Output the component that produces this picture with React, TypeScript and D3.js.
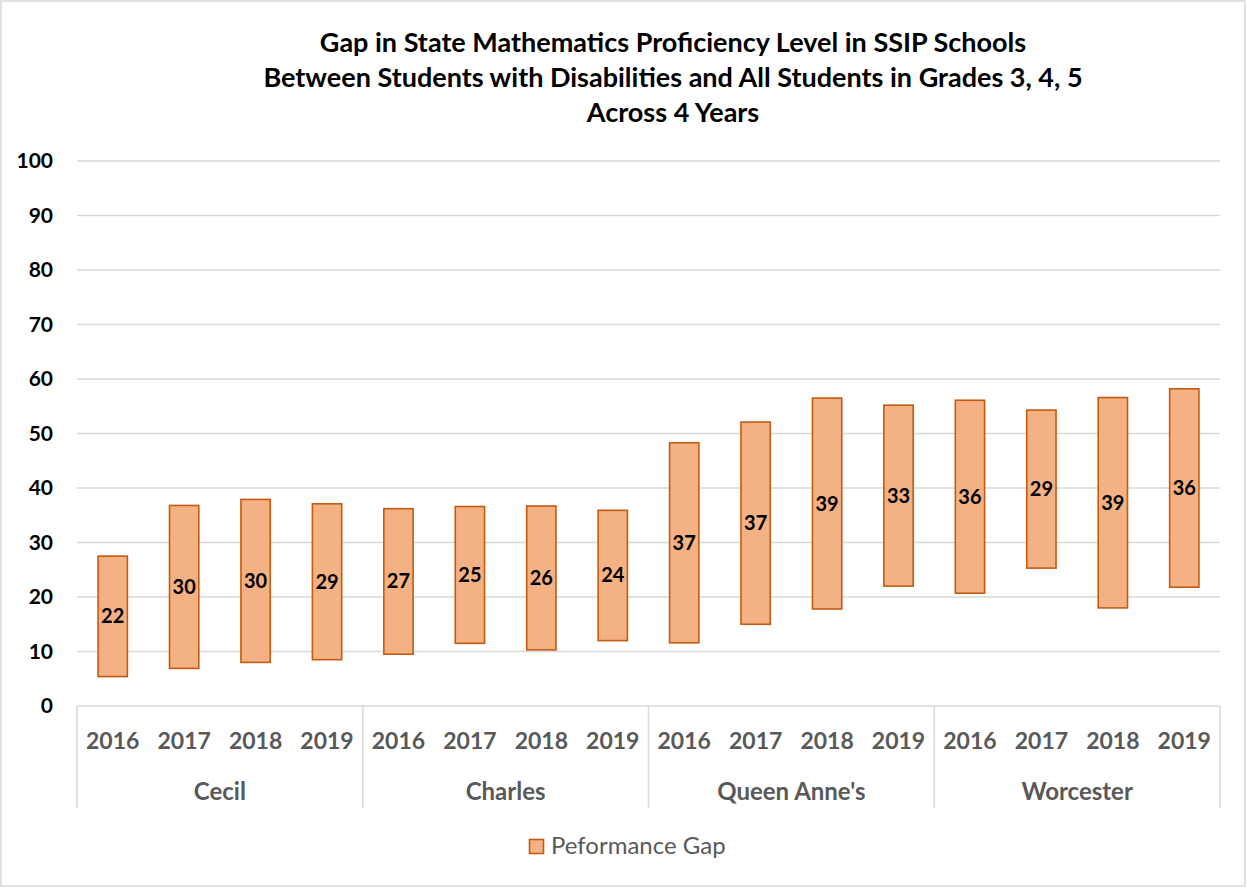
import React from 'react';
import * as d3 from 'd3';

// chart data
const counties = ["Cecil", "Charles", "Queen Anne's", "Worcester"];
const years = ["2016", "2017", "2018", "2019"];
// lower end of the floating bar (students with disabilities)
const lowValues = [5.4, 6.9, 8.0, 8.5, 9.5, 11.5, 10.3, 12.0, 11.6, 15.0, 17.8, 22.0, 20.7, 25.3, 18.0, 21.8];
// upper end of the floating bar (all students)
const highValues = [27.5, 36.8, 37.9, 37.1, 36.2, 36.6, 36.7, 35.9, 48.3, 52.1, 56.5, 55.2, 56.1, 54.3, 56.6, 58.2];
// gap labels as printed on the bars
const gapLabels = ["22", "30", "30", "29", "27", "25", "26", "24", "37", "37", "39", "33", "36", "29", "39", "36"];
const yTicks = [0, 10, 20, 30, 40, 50, 60, 70, 80, 90, 100];
const titleLines = [
  "Gap in State Mathematics Proficiency Level in SSIP Schools",
  "Between Students with Disabilities and All Students in Grades 3, 4, 5",
  "Across 4 Years",
];
const legendLabel = "Peformance Gap";

const W = 1247;
const H = 888;
const FONT = "Lato, 'Open Sans', sans-serif";
const FILL = "#F4B183";
const STROKE = "#C55A11";
const GREY = "#595959";
const GRID = "#d9d9d9";

const App = () => {
  const plot = { left: 77, right: 1220, top: 161, bottom: 706 };

  const keys = counties.flatMap(c => years.map(y => `${c}|${y}`));

  const x = d3.scaleBand<string>()
    .domain(keys)
    .range([plot.left, plot.right])
    .paddingInner(0.59)
    .paddingOuter(0.295);

  const xGroup = d3.scaleBand<string>()
    .domain(counties)
    .range([plot.left, plot.right]);

  const y = d3.scaleLinear()
    .domain([0, 100])
    .range([plot.bottom, plot.top]);

  const bars = keys.map((k, i) => ({
    key: k,
    year: k.split("|")[1],
    low: lowValues[i],
    high: highValues[i],
    label: gapLabels[i],
  }));

  return (
    <div style={{ position: 'absolute', left: 0, top: 0 }}>
      <svg width={W} height={H} style={{ display: 'block' }}>
        <rect x={0} y={0} width={W} height={H} fill="#fff" />
        <rect x={1} y={1} width={W - 3} height={H - 3} fill="none" stroke={GRID} strokeWidth={1.5} />

        {/* title */}
        <g fontFamily={FONT} fontWeight="bold" fontSize={27} fill="#000" textAnchor="middle">
          {titleLines.map((t, i) => (
            <text key={i} x={673} y={43 + i * 35} dy="0.35em">{t}</text>
          ))}
        </g>

        {/* gridlines + y labels */}
        {yTicks.map(t => (
          <g key={t}>
            {t > 0 && (
              <line x1={plot.left} x2={plot.right} y1={y(t)} y2={y(t)} stroke={GRID} strokeWidth={1.5} />
            )}
            <text x={53} y={y(t)} dy="0.35em" textAnchor="end" fontFamily={FONT}
              fontWeight="bold" fontSize={21} fill="#000">{t}</text>
          </g>
        ))}

        {/* x axis line and group dividers */}
        <line x1={plot.left} x2={plot.right} y1={plot.bottom} y2={plot.bottom} stroke={GRID} strokeWidth={1.5} />
        {[...counties.map(c => xGroup(c) as number), plot.right].map((gx, i) => (
          <line key={i} x1={gx} x2={gx} y1={plot.bottom} y2={808} stroke={GRID} strokeWidth={1.5} />
        ))}

        {/* floating bars */}
        {bars.map(b => (
          <g key={b.key}>
            <rect
              x={x(b.key)}
              y={y(b.high)}
              width={x.bandwidth()}
              height={y(b.low) - y(b.high)}
              fill={FILL}
              stroke={STROKE}
              strokeWidth={1.6}
            />
            <text
              x={(x(b.key) as number) + x.bandwidth() / 2}
              y={y((b.low + b.high) / 2)}
              dy="0.35em"
              textAnchor="middle"
              fontFamily={FONT}
              fontWeight="bold"
              fontSize={20}
              fill="#000"
            >{b.label}</text>
          </g>
        ))}

        {/* year labels */}
        {bars.map(b => (
          <text key={`yr-${b.key}`}
            x={(x(b.key) as number) + x.bandwidth() / 2}
            y={741}
            dy="0.35em"
            textAnchor="middle"
            fontFamily={FONT}
            fontWeight="bold"
            fontSize={23}
            fill={GREY}
          >{b.year}</text>
        ))}

        {/* county labels */}
        {counties.map(c => (
          <text key={c}
            x={(xGroup(c) as number) + xGroup.bandwidth() / 2}
            y={792}
            dy="0.35em"
            textAnchor="middle"
            fontFamily={FONT}
            fontWeight="bold"
            fontSize={24}
            fill={GREY}
          >{c}</text>
        ))}

        {/* legend */}
        <rect x={529.5} y={839.5} width={14} height={14} fill={FILL} stroke={STROKE} strokeWidth={1.6} />
        <text x={551} y={846} dy="0.35em" fontFamily={FONT} fontSize={24} fill={GREY}>{legendLabel}</text>
      </svg>
    </div>
  );
};

export default App;
